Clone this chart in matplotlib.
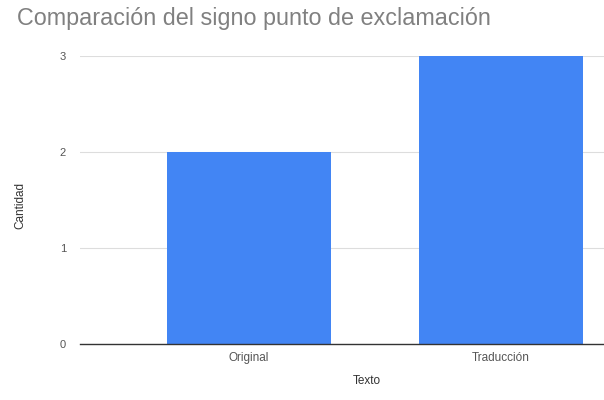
import matplotlib
matplotlib.use("Agg")
import matplotlib.pyplot as plt

categories = ["Original", "Traducción"]
values = [2, 3]
yticks = [0, 1, 2, 3]

plt.rcParams['font.family'] = ['Liberation Sans', 'DejaVu Sans']

fig = plt.figure(figsize=(6.04, 4.0), dpi=100)
ax = fig.add_axes([80/604, 56/400, 1 - 80/604, (344-56)/400])

x = list(range(len(categories)))
ax.bar(x, values, width=0.65, color="#4285F4", zorder=3)
ax.set_xlim(-0.67, 1.409)
ax.set_ylim(0, 3)
ax.set_yticks(yticks)
ax.set_yticklabels([str(t) for t in yticks], fontsize=8, color="#555555")
ax.set_xticks(x)
ax.set_xticklabels(categories, fontsize=8.5, color="#555555")
ax.tick_params(axis='y', length=0, pad=10)
ax.tick_params(axis='x', length=0, pad=6)
ax.grid(axis='y', color="#dddddd", linewidth=0.8, zorder=0)
for s in ["top", "right", "left"]:
    ax.spines[s].set_visible(False)
ax.spines["bottom"].set_color("#333333")
ax.spines["bottom"].set_linewidth(1.0)
ax.spines["bottom"].set_zorder(4)

ax.set_ylabel("Cantidad", fontsize=8.5, color="#333333")
ax.yaxis.set_label_coords(-(80 - 26) / 524, 0.48)
ax.set_xlabel("Texto", fontsize=8.5, color="#333333")
ax.xaxis.set_label_coords((367 - 80) / 524, -(375 - 344) / 288)

fig.text(17/604, 1 - 19/400, "Comparación del signo punto de exclamación",
         fontsize=16.8, color="#808080", va="center", ha="left")

fig.savefig("out.png", dpi=100)
